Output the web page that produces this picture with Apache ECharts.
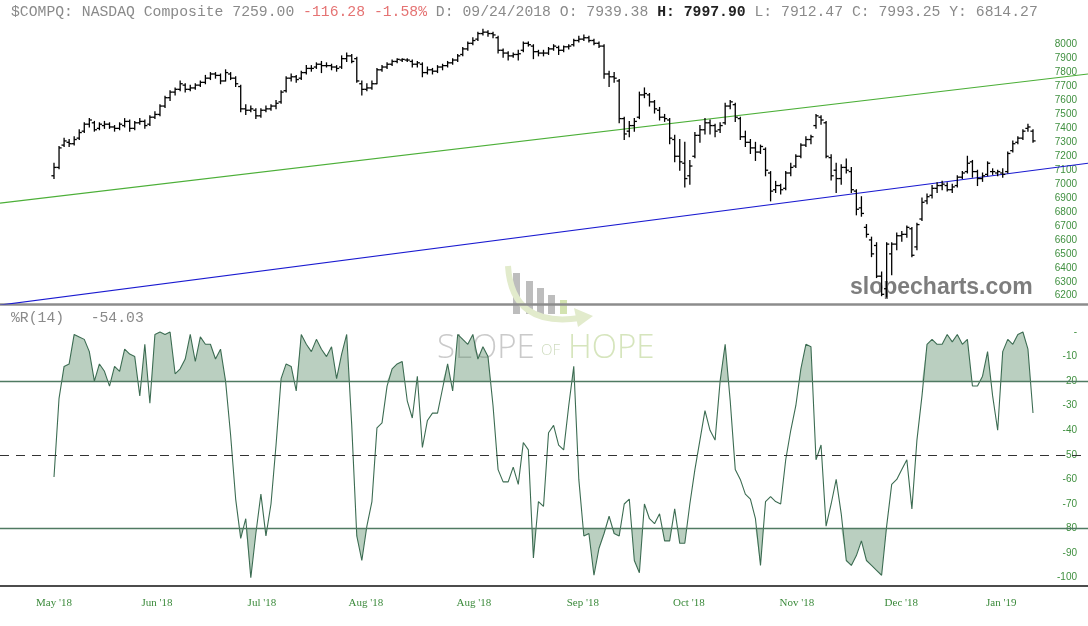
<!DOCTYPE html>
<html><head><meta charset="utf-8">
<script src="https://cdn.jsdelivr.net/npm/echarts@6/dist/echarts.min.js"></script>
<style>html,body{margin:0;padding:0;background:#fff}#c{width:1088px;height:626px}</style>
</head><body><div id="c"></div>
<script>
const opens = [
7060,7120,7280,7300,7290,7330,7380,7430,7440,7400,
7420,7430,7410,7400,7420,7450,7400,7440,7450,7430,
7480,7500,7560,7620,7660,7680,7710,7680,7690,7710,
7730,7760,7790,7780,7740,7790,7760,7700,7540,7530,
7530,7490,7530,7540,7560,7590,7670,7760,7770,7760,
7800,7830,7840,7860,7850,7850,7840,7840,7900,7920,
7900,7720,7680,7690,7720,7820,7840,7860,7880,7890,
7890,7880,7860,7860,7800,7820,7810,7840,7850,7870,
7890,7930,7970,8010,8040,8080,8090,8080,8050,7960,
7940,7920,7930,7960,8010,7990,7950,7940,7940,7970,
7980,7960,7985,8000,8030,8040,8050,8030,8010,7990,
7790,7770,7740,7470,7380,7420,7480,7640,7640,7590,
7530,7480,7460,7320,7200,7150,7060,7200,7350,7390,
7440,7420,7390,7440,7560,7570,7470,7340,7300,7260,
7230,7250,7080,6960,6990,6970,7080,7130,7200,7280,
7320,7420,7480,7440,7190,7100,7040,7120,7090,6950,
6830,6690,6600,6560,6340,6250,6500,6570,6630,6640,
6680,6550,6750,6880,6920,6970,6990,6990,6960,6990,
7050,7090,7160,7090,7040,7070,7090,7080,7080,7090,
7240,7300,7330,7400,7380];
const highs = [
7150,7270,7330,7320,7340,7390,7440,7470,7450,7440,
7450,7440,7420,7440,7470,7460,7450,7470,7460,7490,
7520,7570,7630,7670,7690,7740,7720,7710,7720,7740,
7780,7800,7800,7790,7820,7800,7770,7710,7570,7560,
7540,7540,7560,7570,7600,7670,7770,7790,7780,7810,
7850,7850,7870,7880,7870,7860,7850,7920,7940,7930,
7910,7740,7720,7740,7830,7850,7870,7890,7900,7900,
7900,7890,7880,7870,7840,7830,7850,7860,7880,7900,
7930,7980,8020,8050,8090,8110,8100,8090,8060,7970,
7950,7940,7960,8020,8020,8000,7960,7960,7980,8000,
7990,7990,8000,8040,8060,8070,8060,8040,8020,8000,
7810,7800,7750,7480,7450,7470,7660,7690,7650,7600,
7550,7500,7470,7350,7320,7300,7170,7370,7420,7470,
7460,7430,7440,7580,7600,7580,7480,7380,7320,7300,
7280,7260,7090,7020,7000,7090,7150,7210,7290,7340,
7350,7500,7490,7450,7210,7150,7140,7180,7120,6960,
6910,6710,6620,6580,6370,6580,6580,6650,6660,6700,
6690,6720,6900,6930,6990,7010,7020,7010,7000,7060,
7090,7200,7170,7100,7080,7160,7110,7100,7110,7230,
7310,7340,7390,7430,7390];
const lows = [
7040,7110,7270,7270,7280,7320,7370,7410,7380,7390,
7400,7400,7380,7390,7410,7380,7390,7430,7400,7420,
7470,7490,7550,7600,7640,7670,7660,7670,7680,7700,
7720,7750,7760,7720,7740,7750,7700,7520,7500,7520,
7470,7480,7520,7530,7540,7580,7660,7740,7730,7750,
7790,7810,7830,7800,7840,7820,7810,7830,7880,7870,
7730,7640,7670,7680,7720,7810,7830,7850,7870,7880,
7880,7840,7840,7770,7790,7790,7800,7820,7840,7860,
7880,7920,7960,8000,8030,8070,8060,8050,7940,7910,
7890,7910,7890,7950,7990,7900,7920,7920,7930,7960,
7930,7950,7970,7990,8020,8030,8020,8000,7980,7760,
7700,7730,7440,7320,7340,7380,7470,7620,7560,7510,
7460,7450,7290,7160,7100,6980,7000,7190,7300,7360,
7360,7340,7370,7430,7540,7450,7320,7270,7220,7170,
7220,7060,6880,6940,6930,6960,7060,7120,7190,7270,
7290,7400,7430,7190,7030,6940,7000,7080,6940,6780,
6770,6620,6480,6330,6200,6190,6350,6530,6590,6620,
6480,6530,6740,6860,6900,6940,6960,6950,6940,6980,
7040,7080,7050,6990,7020,7060,7070,7060,7050,7080,
7230,7290,7320,7380,7300];
const closes = [
7120,7260,7310,7290,7320,7370,7430,7460,7390,7430,
7430,7410,7400,7430,7450,7400,7440,7450,7420,7480,
7500,7560,7620,7660,7680,7720,7680,7690,7710,7730,
7760,7790,7780,7740,7800,7760,7720,7540,7530,7540,
7490,7530,7540,7560,7580,7660,7760,7770,7750,7800,
7830,7830,7860,7850,7850,7840,7830,7900,7920,7880,
7740,7680,7690,7720,7820,7840,7860,7880,7895,7895,
7890,7860,7870,7800,7820,7810,7840,7850,7870,7890,
7920,7970,8010,8030,8080,8090,8080,8070,7960,7940,
7920,7930,7935,8010,8000,7950,7940,7940,7970,7990,
7960,7985,7990,8030,8040,8050,8030,8010,7990,7790,
7770,7760,7470,7360,7420,7450,7640,7650,7590,7540,
7480,7470,7330,7200,7160,7040,7130,7350,7390,7440,
7420,7380,7420,7560,7590,7480,7340,7300,7260,7230,
7270,7100,6950,6990,6960,7080,7120,7200,7280,7320,
7340,7490,7460,7200,7060,7040,7120,7100,6960,6820,
6790,6640,6500,6340,6210,6570,6570,6630,6640,6690,
6490,6710,6870,6910,6970,6990,7000,6960,6980,7050,
7080,7150,7090,7040,7060,7150,7090,7090,7070,7220,
7290,7330,7380,7410,7310];
const willR = [
-59,-27,-14,-13,-1,-2,-3,-8,-20,-13,
-16,-22,-14,-16,-7,-9,-10,-26,-5,-29,
-1,0,-1,0,-17,-15,-11,-1,-12,-2,
-5,-5,-11,-7,-20,-42,-68,-84,-76,-100,
-82,-66,-83,-70,-46,-19,-13,-14,-24,-1,
-5,-8,-3,-7,-10,-6,-19,-9,-1,-38,
-83,-93,-79,-69,-39,-37,-22,-15,-13,-12,
-28,-35,-18,-47,-36,-33,-33,-23,-13,-24,
-1,-3,-5,-1,-11,-6,-10,-30,-56,-61,
-61,-55,-62,-45,-48,-92,-69,-71,-41,-38,
-46,-48,-30,-14,-60,-83,-82,-99,-88,-82,
-75,-82,-83,-70,-68,-93,-98,-70,-76,-78,
-74,-85,-85,-72,-86,-86,-70,-56,-44,-32,
-40,-44,-20,-5,-28,-56,-60,-66,-68,-76,
-95,-69,-67,-69,-70,-52,-40,-30,-15,-5,
-6,-52,-46,-79,-70,-60,-74,-93,-95,-91,
-85,-93,-95,-97,-99,-79,-62,-60,-56,-52,
-72,-44,-26,-5,-3,-5,-5,-1,-4,-1,
-5,-3,-22,-22,-18,-8,-26,-40,-8,-3,
-5,-1,0,-7,-33];
const priceTicks = [6200,6300,6400,6500,6600,6700,6800,6900,7000,7100,7200,7300,7400,7500,7600,7700,7800,7900,8000];
const wrTicks = [0,-10,-20,-30,-40,-50,-60,-70,-80,-90,-100];
const xLabels = ["May '18","Jun '18","Jul '18","Aug '18","Aug '18","Sep '18","Oct '18","Nov '18","Dec '18","Jan '19"];
const xLabelAt = [0, 20.4, 41.2, 61.8, 83.2, 104.8, 125.8, 147.2, 167.9, 187.7];
const greenTrend = [[-10.7, 6864], [204.9, 7790]];
const blueTrend = [[-10.7, 6133], [204.9, 7150]];
const wrLevels = {upper: -20, mid: -50, lower: -80};

const bars = closes.map((c, i) => [i, opens[i], highs[i], lows[i], c]);
const wrData = willR.map((v, i) => [i, v]);
function fillBeyond(thr, above) {
  const out = [];
  const beyond = v => above ? v > thr : v < thr;
  for (let i = 0; i < willR.length; i++) {
    const v = willR[i];
    out.push([i, beyond(v) ? v : thr]);
    if (i < willR.length - 1) {
      const w = willR[i + 1];
      if (beyond(v) !== beyond(w) && v !== thr && w !== thr) {
        out.push([i + (thr - v) / (w - v), thr]);
      }
    }
  }
  return out;
}
const XMIN = -10.7, XMAX = 204.9;
const chart = echarts.init(document.getElementById('c'));
const mono = 'Liberation Mono';
const fillColor = 'rgba(90,140,105,0.42)';
chart.setOption({
  animation: false,
  backgroundColor: '#ffffff',
  title: [{
    left: 11, top: 5, padding: 0,
    text: '{g|$COMPQ: NASDAQ Composite 7259.00 }{r|-116.28 -1.58%}{g| D: 09/24/2018 O: 7939.38 }{b|H: 7997.90}{g| L: 7912.47 C: 7993.25 Y: 6814.27}',
    textStyle: { fontWeight: 'normal', rich: {
      g: {fontFamily: mono, fontSize: 14.75, color: '#8a8a8a', fontWeight: 'normal'},
      r: {fontFamily: mono, fontSize: 14.75, color: '#e57373', fontWeight: 'normal'},
      b: {fontFamily: mono, fontSize: 14.75, color: '#222', fontWeight: 'bold'}
    }}
  }, {
    left: 11, top: 311, padding: 0,
    text: '%R(14)   -54.03',
    textStyle: {fontFamily: mono, fontSize: 14.75, color: '#8a8a8a', fontWeight: 'normal'}
  }],
  graphic: [
    {type: 'rect', z: 0, shape: {x: 513, y: 273, width: 7, height: 41}, style: {fill: '#bdbdbd'}},
    {type: 'rect', z: 0, shape: {x: 526, y: 281, width: 7, height: 33}, style: {fill: '#bdbdbd'}},
    {type: 'rect', z: 0, shape: {x: 537, y: 288, width: 7, height: 26}, style: {fill: '#bdbdbd'}},
    {type: 'rect', z: 0, shape: {x: 548, y: 295, width: 7, height: 19}, style: {fill: '#bdbdbd'}},
    {type: 'rect', z: 0, shape: {x: 560, y: 300, width: 7, height: 14}, style: {fill: '#d3e3b0'}},
    {type: 'bezierCurve', z: 0, shape: {x1: 508, y1: 266, cpx1: 512, cpy1: 328, x2: 580, y2: 318}, style: {fill: null, stroke: '#e2ebcc', lineWidth: 6}},
    {type: 'polygon', z: 0, shape: {points: [[574, 308], [593, 316], [578, 327]]}, style: {fill: '#e2ebcc'}},
    {type: 'text', z: 0, x: 437, y: 349, style: {text: 'SLOPE', fontFamily: 'Open Sans', fontWeight: 300, fontSize: 33, fill: '#cacaca', verticalAlign: 'middle'}},
    {type: 'text', z: 0, x: 541, y: 351, style: {text: 'OF', fontFamily: 'Open Sans', fontWeight: 300, fontSize: 15, fill: '#cfdcbf', verticalAlign: 'middle'}},
    {type: 'text', z: 0, x: 568, y: 349, style: {text: 'HOPE', fontFamily: 'Open Sans', fontWeight: 300, fontSize: 33, fill: '#d6e5bd', verticalAlign: 'middle'}},
    {type: 'text', z: 0, x: 850, y: 288, style: {text: 'slopecharts.com', fontFamily: 'Liberation Sans', fontWeight: 'bold', fontSize: 23, fill: '#7d7d7d', verticalAlign: 'middle'}}
  ],
  grid: [
    {left: 0, right: 0, top: 0, height: 304},
    {left: 0, right: 0, top: 305, height: 281}
  ],
  xAxis: [
    {type: 'value', gridIndex: 0, min: XMIN, max: XMAX, splitLine: {show: false},
     axisLine: {show: true, onZero: false, lineStyle: {color: '#8c8c8c', width: 2.5}},
     axisTick: {show: false}, axisLabel: {show: false}},
    {type: 'value', gridIndex: 1, min: XMIN, max: XMAX, splitLine: {show: false},
     axisLine: {show: true, onZero: false, lineStyle: {color: '#111', width: 1.5}},
     axisTick: {show: false},
     axisLabel: {show: true, customValues: xLabelAt, margin: 12, color: '#3b8a3b', fontSize: 11,
       fontFamily: 'Liberation Serif',
       formatter: v => { const k = xLabelAt.indexOf(v); return k >= 0 ? xLabels[k] : ''; }}}
  ],
  yAxis: [
    {type: 'value', gridIndex: 0, position: 'right', min: 6140.5, max: 8320.6,
     splitLine: {show: false}, axisLine: {show: false}, axisTick: {show: false},
     axisLabel: {inside: true, margin: 11, customValues: priceTicks, color: '#3f8f3f', fontSize: 10, fontFamily: 'Liberation Sans',
       formatter: v => String(v)}},
    {type: 'value', gridIndex: 1, position: 'right', min: -103.38, max: 10.99,
     splitLine: {show: false}, axisLine: {show: false}, axisTick: {show: false},
     axisLabel: {inside: true, margin: 11, customValues: wrTicks, color: '#3f8f3f', fontSize: 10, fontFamily: 'Liberation Sans',
       formatter: v => v === 0 ? '-' : String(v)}}
  ],
  series: [
    {type: 'line', xAxisIndex: 0, yAxisIndex: 0, data: greenTrend, symbol: 'none', silent: true,
     lineStyle: {color: '#4caf38', width: 1.2}, z: 3},
    {type: 'line', xAxisIndex: 0, yAxisIndex: 0, data: blueTrend, symbol: 'none', silent: true,
     lineStyle: {color: '#1a1ad0', width: 1.2}, z: 3},
    {type: 'custom', xAxisIndex: 0, yAxisIndex: 0, data: bars, z: 4, clip: true,
     encode: {x: 0, y: [1, 2, 3, 4]},
     renderItem: (params, api) => {
       const x = api.value(0);
       const pH = api.coord([x, api.value(2)]);
       const pL = api.coord([x, api.value(3)]);
       const pO = api.coord([x, api.value(1)]);
       const pC = api.coord([x, api.value(4)]);
       const st = {stroke: '#000', lineWidth: 1.3};
       return {type: 'group', children: [
         {type: 'line', shape: {x1: pH[0], y1: pH[1] - 0.5, x2: pL[0], y2: pL[1] + 0.5}, style: st},
         {type: 'line', shape: {x1: pO[0] - 2.6, y1: pO[1], x2: pO[0], y2: pO[1]}, style: st},
         {type: 'line', shape: {x1: pC[0], y1: pC[1], x2: pC[0] + 2.6, y2: pC[1]}, style: st}
       ]};
     }},
    {type: 'line', xAxisIndex: 1, yAxisIndex: 1, data: fillBeyond(wrLevels.upper, true), symbol: 'none', silent: true,
     lineStyle: {width: 0, opacity: 0}, areaStyle: {origin: wrLevels.upper, color: fillColor, opacity: 1}, z: 2},
    {type: 'line', xAxisIndex: 1, yAxisIndex: 1, data: fillBeyond(wrLevels.lower, false), symbol: 'none', silent: true,
     lineStyle: {width: 0, opacity: 0}, areaStyle: {origin: wrLevels.lower, color: fillColor, opacity: 1}, z: 2},
    {type: 'line', xAxisIndex: 1, yAxisIndex: 1, data: wrData, symbol: 'none', silent: true,
     lineStyle: {color: '#3c6c52', width: 1.1}, z: 4,
     markLine: {silent: true, symbol: 'none', label: {show: false}, animation: false,
       data: [
         {yAxis: wrLevels.upper, lineStyle: {color: '#4f7a62', width: 1.3, type: 'solid'}},
         {yAxis: wrLevels.lower, lineStyle: {color: '#4f7a62', width: 1.3, type: 'solid'}},
         {yAxis: wrLevels.mid, lineStyle: {color: '#333', width: 1, type: [9, 7]}}
       ]}}
  ]
});
</script>
</body></html>
